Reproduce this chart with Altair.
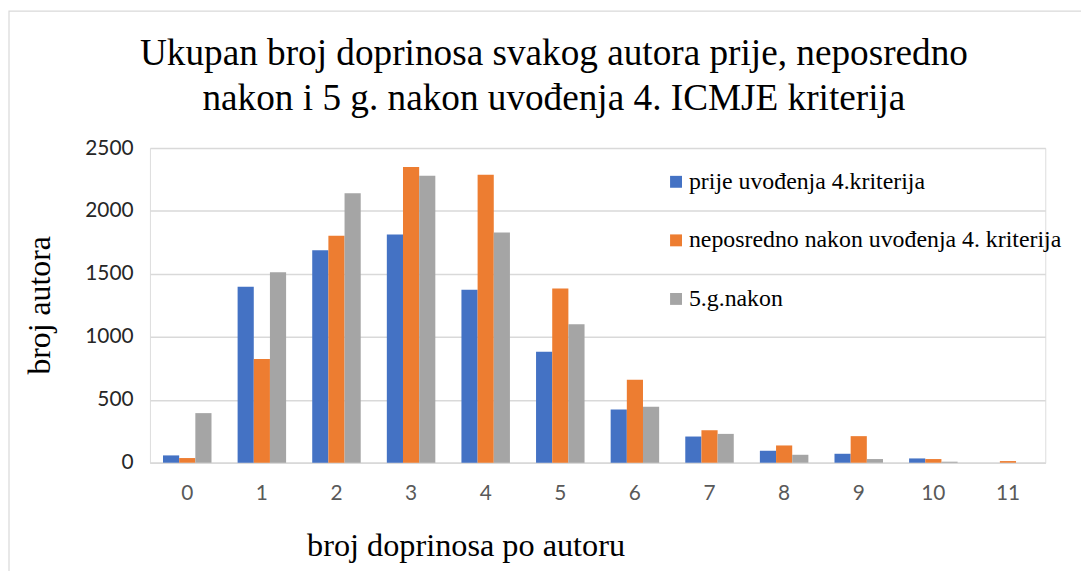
import altair as alt
import pandas as pd

categories = ["0", "1", "2", "3", "4", "5", "6", "7", "8", "9", "10", "11"]
series = [
    "prije uvođenja 4.kriterija",
    "neposredno nakon uvođenja 4. kriterija",
    "5.g.nakon",
]
prije = [58, 1398, 1688, 1814, 1375, 881, 423, 208, 95, 71, 34, 0]
neposredno = [37, 824, 1803, 2350, 2287, 1385, 660, 258, 137, 211, 29, 13]
pet_godina = [394, 1514, 2140, 2279, 1830, 1101, 444, 229, 63, 29, 8, 0]
colors = ["#4472C4", "#ED7D31", "#A5A5A5"]
y_ticks = [0, 500, 1000, 1500, 2000, 2500]

title_lines = [
    "Ukupan broj doprinosa svakog autora prije, neposredno",
    "nakon i 5 g. nakon uvođenja 4. ICMJE kriterija",
]

rows = []
for s, vals in zip(series, [prije, neposredno, pet_godina]):
    for c, v in zip(categories, vals):
        rows.append({"kat": c, "serija": s, "vrijednost": v})
df = pd.DataFrame(rows)

W, H = 902, 317

bars = alt.Chart(df).mark_bar().encode(
    x=alt.X(
        "kat:N",
        sort=categories,
        scale=alt.Scale(paddingInner=0.35, paddingOuter=0.175),
        axis=alt.Axis(
            title="broj doprinosa po autoru",
            labelAngle=0,
            labelFont="Lato",
            labelFontSize=21,
            labelColor="#595959",
            labelPadding=20,
            ticks=False,
            domainColor="#d9d9d9",
            domainWidth=1.5,
            titleFont="Liberation Serif",
            titleFontSize=32.5,
            titleFontWeight="normal",
            titleColor="#000000",
            titleX=318,
            titleY=83,
            titleAlign="center",
            titleBaseline="middle",
        ),
    ),
    xOffset=alt.XOffset(
        "serija:N", sort=series, scale=alt.Scale(paddingInner=0, paddingOuter=0)
    ),
    y=alt.Y(
        "vrijednost:Q",
        scale=alt.Scale(domain=[0, 2500], nice=False),
        axis=alt.Axis(
            title="broj autora",
            values=y_ticks,
            format="d",
            labelFont="Lato",
            labelFontSize=21,
            labelColor="#262626",
            labelPadding=17,
            ticks=False,
            domain=False,
            gridColor="#d9d9d9",
            gridWidth=1.5,
            titleFont="Liberation Serif",
            titleFontSize=32,
            titleFontWeight="normal",
            titleColor="#000000",
            titleX=-111,
            titleY=158,
            titleAngle=-90,
            titleAlign="center",
            titleBaseline="middle",
        ),
    ),
    color=alt.Color(
        "serija:N",
        sort=series,
        scale=alt.Scale(domain=series, range=colors),
        legend=alt.Legend(
            title=None,
            orient="none",
            legendX=518,
            legendY=22,
            symbolType="square",
            symbolSize=144,
            symbolStrokeWidth=0,
            labelFont="Liberation Serif",
            labelFontSize=24,
            labelColor="#000000",
            labelOffset=1,
            labelLimit=0,
            rowPadding=35,
            padding=0,
        ),
    ),
)

border = alt.Chart(alt.Data(values=[{}])).mark_rect(
    fillOpacity=0, stroke="#d9d9d9", strokeWidth=1.2
).encode(
    x=alt.value(-142), x2=alt.value(2000), y=alt.value(-138), y2=alt.value(2000)
)

chart = (
    alt.layer(border, bars)
    .properties(
        width=W,
        height=H,
        autosize=alt.AutoSizeParams(type="none"),
        padding={"left": 143, "top": 139, "right": 36, "bottom": 107},
        title=alt.Title(
            title_lines,
            font="Liberation Serif",
            fontSize=37.5,
            fontWeight="normal",
            color="#000000",
            lineHeight=46,
            anchor="middle",
            frame="group",
            dx=-44,
            offset=-108,
        ),
    )
    .configure_view(stroke=None)
    .configure_legend(labelFont="Liberation Serif", labelFontSize=24)
    .configure(background="white")
)

chart.save("out.html", embed_options={"renderer": "svg", "actions": False})
